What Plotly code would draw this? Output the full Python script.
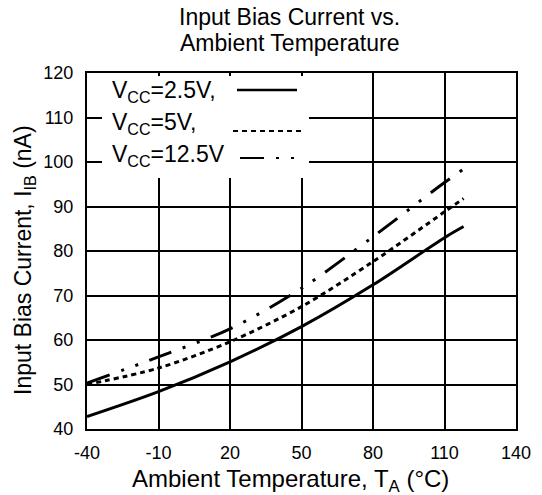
import plotly.graph_objects as go

# ---- data ----
temp_c = [-40, -10, 20, 50, 80, 110, 118]
ib_vcc_2p5 = [42.8, 48.4, 55.1, 63.0, 72.4, 83.0, 85.5]
ib_vcc_5 = [50.0, 53.7, 59.6, 67.5, 77.6, 88.8, 91.8]
ib_vcc_12p5 = [50.3, 56.2, 62.5, 71.6, 83.2, 95.4, 98.4]

x_ticks = [-40, -10, 20, 50, 80, 110, 140]
y_ticks = [40, 50, 60, 70, 80, 90, 100, 110, 120]

series_names = ["V<sub>CC</sub>=2.5V,", "V<sub>CC</sub>=5V,", "V<sub>CC</sub>=12.5V"]
title_lines = ["Input Bias Current vs.", "Ambient Temperature"]
x_title = "Ambient Temperature, T<sub>A</sub> (°C)"
y_title = "Input Bias Current, I<sub>IB</sub> (nA)"

# ---- layout geometry (pixels) ----
W, H = 542, 495
L, R, T, B = 87, 26, 73, 66
PW, PH = W - L - R, H - T - B

DOTTED = "5px,4px"
DASHDOT = "24px,12px,3px,12px,3px,12px"
FONT = "Liberation Sans, Arial, sans-serif"


def px_x(p):
    return (p - L) / PW


def px_y(p):
    return (H - B - p) / PH


fig = go.Figure()
styles = [("solid", ib_vcc_2p5), (DOTTED, ib_vcc_5), (DASHDOT, ib_vcc_12p5)]
for (dash, ys), name in zip(styles, series_names):
    fig.add_trace(go.Scatter(
        x=temp_c, y=ys, mode="lines", name=name,
        line=dict(color="black", width=3, dash=dash, shape="spline", smoothing=0.9),
        showlegend=False, hoverinfo="skip",
    ))

shapes = [
    # white legend box covering gridlines
    dict(type="rect", xref="paper", yref="paper",
         x0=px_x(102), x1=px_x(309), y0=px_y(178), y1=px_y(76),
         fillcolor="white", line=dict(width=0), layer="above"),
]
samples = [
    (237, 297, 90, "solid"),
    (233, 302, 131, DOTTED),
    (240, 294, 158, DASHDOT),
]
for x0, x1, yy, dash in samples:
    shapes.append(dict(type="line", xref="paper", yref="paper",
                       x0=px_x(x0), x1=px_x(x1), y0=px_y(yy), y1=px_y(yy),
                       line=dict(color="black", width=2 if dash != "solid" else 2.5, dash=dash),
                       layer="above"))

annotations = []
for name, yy in zip(series_names, [92, 123, 155]):
    annotations.append(dict(text=name, xref="paper", yref="paper",
                            x=px_x(110), y=px_y(yy), xanchor="left", yanchor="middle",
                            showarrow=False, font=dict(size=23, color="black", family=FONT)))
for line, yy in zip(title_lines, [17, 43]):
    annotations.append(dict(text=line, xref="paper", yref="paper",
                            x=px_x(289), y=px_y(yy), xanchor="center", yanchor="middle",
                            showarrow=False, font=dict(size=23, color="black", family=FONT)))
annotations.append(dict(text=x_title, xref="paper", yref="paper",
                        x=px_x(290), y=px_y(481), xanchor="center", yanchor="middle",
                        showarrow=False, font=dict(size=24, color="black", family=FONT)))
annotations.append(dict(text=y_title, xref="paper", yref="paper", textangle=-90,
                        x=px_x(24), y=px_y(260), xanchor="center", yanchor="middle",
                        showarrow=False, font=dict(size=23, color="black", family=FONT)))

fig.update_layout(
    width=W, height=H,
    margin=dict(l=L, r=R, t=T, b=B, autoexpand=False),
    paper_bgcolor="white", plot_bgcolor="white",
    font=dict(family=FONT, color="black", size=18),
    shapes=shapes,
    annotations=annotations,
    showlegend=False,
)
fig.update_xaxes(
    range=[-40, 140], tickvals=x_ticks, ticktext=[str(v) for v in x_ticks],
    showgrid=True, gridcolor="black", gridwidth=2,
    showline=True, linecolor="black", linewidth=2, mirror=True,
    ticks="", ticklabelstandoff=6, zeroline=False, automargin=False,
    tickfont=dict(size=18),
)
fig.update_yaxes(
    range=[40, 120], tickvals=y_ticks, ticktext=[str(v) for v in y_ticks],
    showgrid=True, gridcolor="black", gridwidth=2,
    showline=True, linecolor="black", linewidth=2, mirror=True,
    ticks="", ticklabelstandoff=8, zeroline=False, automargin=False,
    tickfont=dict(size=18),
)

fig.write_html("out.html",
               config={"displayModeBar": False},
               post_script="document.body.style.margin='0px';document.body.style.overflow='hidden';")
